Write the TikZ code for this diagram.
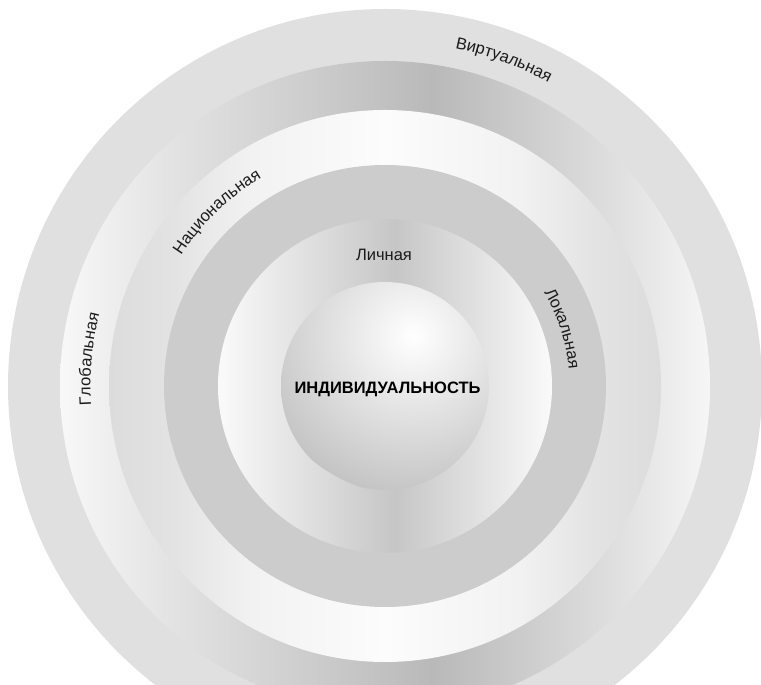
\documentclass[tikz,border=0pt]{standalone}
\usepackage{fontspec}
\setmainfont{Liberation Sans}
\usetikzlibrary{decorations.text}
\definecolor{ringA}{HTML}{E0E0E0}
\definecolor{locC}{HTML}{CCCCCC}
\definecolor{bW}{HTML}{F8F8F8}
\definecolor{bL}{HTML}{E4E4E4}
\definecolor{bD}{HTML}{B9B9B9}
\definecolor{bR}{HTML}{E0E0E0}
\definecolor{bRW}{HTML}{F6F6F6}
\definecolor{cE}{HTML}{DCDCDC}
\definecolor{cE2}{HTML}{E3E3E3}
\definecolor{cE3}{HTML}{F2F2F2}
\definecolor{cM}{HTML}{FCFCFC}
\definecolor{dE}{HTML}{FAFAFA}
\definecolor{dM}{HTML}{C6C6C6}
\definecolor{sE}{HTML}{C4C4C4}
\definecolor{txt}{HTML}{1A1A1A}
\pgfdeclarehorizontalshading{shB}{100bp}{color(0bp)=(bW); color(25bp)=(bW); color(33bp)=(bL); color(53.7bp)=(bD); color(68bp)=(bR); color(75bp)=(bRW); color(100bp)=(bRW)}
\pgfdeclarehorizontalshading{shC}{100bp}{color(0bp)=(cE); color(25bp)=(cE); color(31bp)=(cE2); color(38bp)=(cE3); color(50bp)=(cM); color(62bp)=(cE3); color(69bp)=(cE2); color(75bp)=(cE); color(100bp)=(cE)}
\pgfdeclarehorizontalshading{shD}{100bp}{color(0bp)=(dE); color(25bp)=(dE); color(51.5bp)=(dM); color(75bp)=(dE); color(100bp)=(dE)}
\newcommand\lblfont{\fontsize{16.5}{20}\selectfont}
\tikzset{arclabel/.style={decorate, decoration={text along path, text align=center, text color=txt, text={|\lblfont|#1}}}}
\begin{document}
\begin{tikzpicture}[x=1pt,y=1pt]
\useasboundingbox (0,0) rectangle (761,685);
\clip (0,0) rectangle (761,685);
\coordinate (c) at (385,299);
\fill[ringA] (c) circle[radius=377];
\shade[shading=shB] (c) circle[radius=325];
\shade[shading=shC] (c) circle[radius=276];
\fill[locC] (c) circle[radius=221];
\shade[shading=shD] (c) circle[radius=167];
\begin{scope}
\clip (c) circle[radius=104];
\shade[inner color=white, outer color=sE] ([shift={(28,50)}]c) circle[radius=160];
\end{scope}
\path[arclabel=Виртуальная] ([shift={(110:345)}]c) arc[start angle=110, end angle=30, radius=345];
\path[arclabel=Национальная] ([shift={(174:242)}]c) arc[start angle=174, end angle=94, radius=242];
\path[arclabel=Глобальная] ([shift={(214.8:294.5)}]c) arc[start angle=214.8, end angle=134.8, radius=294.5];
\path[arclabel=Локальная] ([shift={(57.8:184.5)}]c) arc[start angle=57.8, end angle=-22.2, radius=184.5];
\node[font=\lblfont, text=txt] (lich) at (384,430) {Личная};
\node[font=\lblfont\bfseries, text=black] (indiv) at (387.5,296) {ИНДИВИДУАЛЬНОСТЬ};
\end{tikzpicture}
\end{document}
